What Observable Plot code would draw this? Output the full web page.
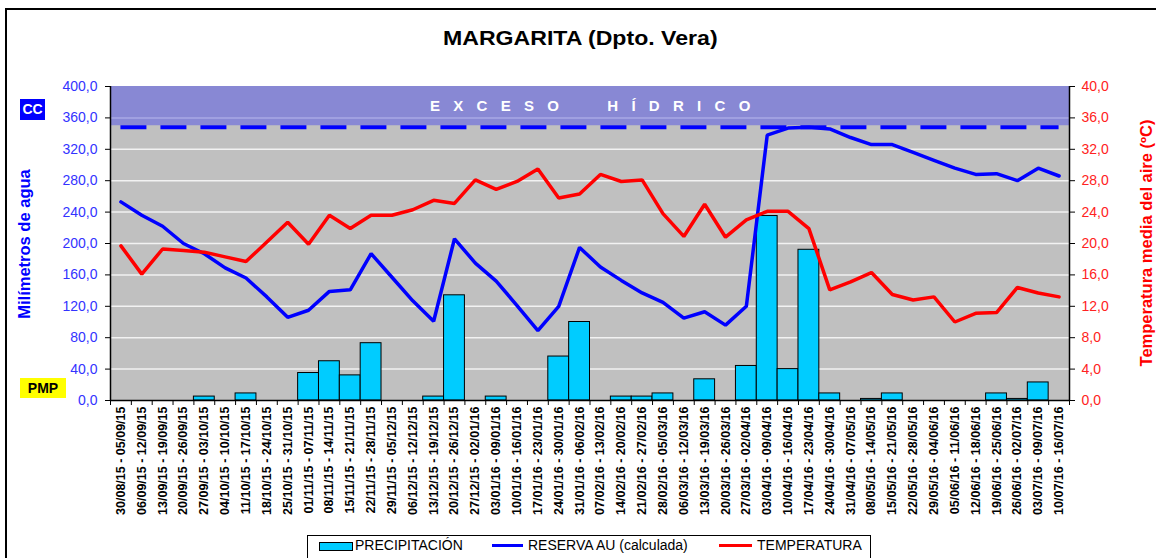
<!DOCTYPE html>
<html>
<head>
<meta charset="utf-8">
<script src="https://cdn.jsdelivr.net/npm/d3@7"></script>
<script src="https://cdn.jsdelivr.net/npm/@observablehq/plot@0.6"></script>
<style>
  html, body { margin: 0; padding: 0; background: #fff; }
  body { width: 1156px; height: 558px; overflow: hidden; position: relative; font-family: Arial, "Liberation Sans", sans-serif; }
  #frame { position: absolute; left: 5px; top: 8px; width: 1170px; height: 600px; border: 2px solid #000; box-sizing: border-box; }
  #chart { position: absolute; left: 0; top: 0; }
  .abs { position: absolute; white-space: nowrap; }
  .rot { transform: translate(-50%, -50%) rotate(-90deg); }
</style>
</head>
<body>
<div id="frame"></div>
<div id="chart"></div>
<div class="abs" style="left:443px; top:26px; font-size:21px; font-weight:bold; color:#000; transform:scaleX(1.1); transform-origin:left top;">MARGARITA (Dpto. Vera)</div>
<div class="abs rot" style="left:24px; top:244px; font-size:16.5px; font-weight:bold; color:#0000ff;">Milímetros de agua</div>
<div class="abs rot" style="left:1146px; top:243px; font-size:16.5px; font-weight:bold; color:#ff0000;">Temperatura media del aire (ºC)</div>
<div class="abs" style="left:20px; top:99px; width:25px; height:21px; background:#0000ff; color:#fff; font-size:14px; font-weight:bold; text-align:center; line-height:21px;">CC</div>
<div class="abs" style="left:20px; top:378px; width:46px; height:20px; background:#ffff00; color:#000; font-size:14px; font-weight:bold; text-align:center; line-height:20px;">PMP</div>
<div class="abs" style="left:430px; top:97px; font-size:15px; font-weight:bold; color:#fff; letter-spacing:13.3px;">EXCESO&nbsp;&nbsp;HÍDRICO</div>
<div class="abs" style="left:307px; top:535px; width:564px; height:40px; border:1px solid #000; background:#fff; box-sizing:border-box;"></div>
<div class="abs" style="left:319px; top:542px; width:32px; height:7px; background:#00ccff; border:1px solid #000;"></div>
<div class="abs" style="left:355px; top:537px; font-size:14px; color:#000;">PRECIPITACIÓN</div>
<div class="abs" style="left:492px; top:544px; width:31px; height:3px; background:#0000ff;"></div>
<div class="abs" style="left:528px; top:537px; font-size:14px; color:#000;">RESERVA AU (calculada)</div>
<div class="abs" style="left:719px; top:544px; width:33px; height:3px; background:#ff0000;"></div>
<div class="abs" style="left:757px; top:537px; font-size:14px; color:#000;">TEMPERATURA</div>
<script>
const weeks = [
  "30/08/15 - 05/09/15","06/09/15 - 12/09/15","13/09/15 - 19/09/15","20/09/15 - 26/09/15",
  "27/09/15 - 03/10/15","04/10/15 - 10/10/15","11/10/15 - 17/10/15","18/10/15 - 24/10/15",
  "25/10/15 - 31/10/15","01/11/15 - 07/11/15","08/11/15 - 14/11/15","15/11/15 - 21/11/15",
  "22/11/15 - 28/11/15","29/11/15 - 05/12/15","06/12/15 - 12/12/15","13/12/15 - 19/12/15",
  "20/12/15 - 26/12/15","27/12/15 - 02/01/16","03/01/16 - 09/01/16","10/01/16 - 16/01/16",
  "17/01/16 - 23/01/16","24/01/16 - 30/01/16","31/01/16 - 06/02/16","07/02/16 - 13/02/16",
  "14/02/16 - 20/02/16","21/02/16 - 27/02/16","28/02/16 - 05/03/16","06/03/16 - 12/03/16",
  "13/03/16 - 19/03/16","20/03/16 - 26/03/16","27/03/16 - 02/04/16","03/04/16 - 09/04/16",
  "10/04/16 - 16/04/16","17/04/16 - 23/04/16","24/04/16 - 30/04/16","31/04/16 - 07/05/16",
  "08/05/16 - 14/05/16","15/05/16 - 21/05/16","22/05/16 - 28/05/16","29/05/16 - 04/06/16",
  "05/06/16 - 11/06/16","12/06/16 - 18/06/16","19/06/16 - 25/06/16","26/06/16 - 02/07/16",
  "03/07/16 - 09/07/16","10/07/16 - 16/07/16"
];
const precipitacion = [0,0,0,0,5,0,9,0,0,35,50,32,73,0,0,5,134,0,5,0,0,56,100,0,5,5,9,0,27,0,44,235,40,192,9,0,2,9,0,0,0,0,9,2,23,0];
const reserva = [253,236,222,200,187,169,156,132,106,115,139,141,187,157,127,101,206,175,152,121,89,120,195,170,153,137,125,105,113,96,120,338,347,348,346,335,326,326,316,306,296,288,289,280,296,286];
const temperatura = [19.7,16.1,19.3,19.1,18.9,18.3,17.7,20.2,22.7,19.9,23.6,21.9,23.6,23.6,24.3,25.5,25.1,28.1,26.9,27.9,29.5,25.8,26.3,28.8,27.9,28.1,23.8,20.9,25.0,20.8,23.0,24.1,24.1,21.9,14.1,15.1,16.3,13.5,12.8,13.2,10.0,11.1,11.2,14.4,13.7,13.2];
const mmTicks = [0,40,80,120,160,200,240,280,320,360,400];
const tempTicks = [0,4,8,12,16,20,24,28,32,36,40];
const cc = 348;
const excesoMin = 350;

const n = weeks.length;
const rows = weeks.map((w, i) => ({i, w, p: precipitacion[i], r: reserva[i], t: temperatura[i]}));
const fmt = v => v.toFixed(1).replace(".", ",");
const tempScale = 10; // 40 ºC <-> 400 mm

const chart = Plot.plot({
  width: 1156,
  height: 558,
  marginLeft: 110,
  marginRight: 87,
  marginTop: 86,
  marginBottom: 158,
  style: {fontFamily: "Arial, 'Liberation Sans', sans-serif", background: "transparent", overflow: "visible"},
  x: {type: "linear", domain: [0, n], axis: null},
  y: {domain: [0, 400], axis: null},
  marks: [
    Plot.rect([0], {x1: 0, x2: n, y1: 0, y2: 400, fill: "#c0c0c0"}),
    Plot.rect([0], {x1: 0, x2: n, y1: excesoMin, y2: 400, fill: "#8888d4"}),
    Plot.ruleY(mmTicks.filter(d => d > 0 && d < excesoMin), {stroke: "#f2f2f2", strokeWidth: 1.5}),
    Plot.ruleY(mmTicks.filter(d => d >= excesoMin && d < 400), {stroke: "#a9a9e6", strokeWidth: 1.5}),
    Plot.ruleY([cc], {x1: 0.5, x2: n - 0.5, stroke: "#0000ff", strokeWidth: 4, strokeDasharray: "26,14"}),
    Plot.rectY(rows.filter(d => d.p > 0), {x1: d => d.i, x2: d => d.i + 1, y1: 0, y2: "p", fill: "#00ccff", stroke: "#000", strokeWidth: 1}),
    Plot.line(rows, {x: d => d.i + 0.5, y: "r", stroke: "#0000ff", strokeWidth: 3.5, strokeLinejoin: "miter"}),
    Plot.line(rows, {x: d => d.i + 0.5, y: d => d.t * tempScale, stroke: "#ff0000", strokeWidth: 3.5, strokeLinejoin: "miter"}),
    Plot.ruleX([0, n], {y1: 0, y2: 400, stroke: "#000", strokeWidth: 1.5}),
    Plot.ruleY([0], {stroke: "#000", strokeWidth: 1.5}),
    Plot.axisY({anchor: "left", ticks: mmTicks, tickFormat: fmt, tickSize: 5, tickPadding: 8, fontSize: 14, fill: "#3333ff", stroke: "#000", label: null}),
    Plot.axisY({anchor: "right", ticks: tempTicks.map(t => t * tempScale), tickFormat: d => fmt(d / tempScale), tickSize: 5, tickPadding: 7, fontSize: 14, fill: "#ff2222", stroke: "#000", label: null}),
    Plot.axisX({ticks: d3.range(0, n + 1), tickFormat: () => "", tickSize: 5, stroke: "#000", label: null}),
    Plot.axisX({ticks: d3.range(n).map(i => i + 0.5), tickFormat: d => weeks[Math.floor(d)], tickSize: 0, tickPadding: 6, tickRotate: -90, fontSize: 12.5, fontWeight: "bold", fill: "#000", label: null})
  ]
});
document.getElementById("chart").appendChild(chart);
</script>
</body>
</html>
